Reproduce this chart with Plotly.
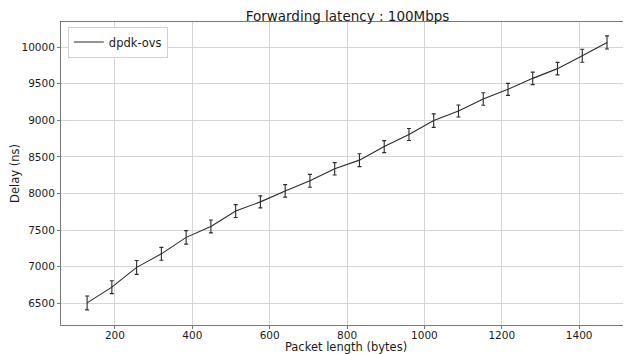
import plotly.graph_objects as go

packet_length = [128, 192, 256, 320, 384, 448, 512, 576, 640, 704, 768,
                 832, 896, 960, 1024, 1088, 1152, 1216, 1280, 1344, 1408, 1472]
delay_ns = [6505, 6720, 6990, 7175, 7400, 7550, 7760, 7885, 8035, 8172, 8336,
            8455, 8640, 8805, 8995, 9127, 9290, 9422, 9572, 9705, 9881, 10063]
delay_err = [95, 88, 95, 88, 92, 88, 88, 82, 85, 88, 85,
             88, 82, 82, 92, 82, 85, 82, 85, 85, 88, 90]

x_ticks = [200, 400, 600, 800, 1000, 1200, 1400]
y_ticks = [6500, 7000, 7500, 8000, 8500, 9000, 9500, 10000]

font_family = "DejaVu Sans"

# page body has an 8px margin, so the figure is 8px smaller and offset
fig = go.Figure()
fig.add_trace(go.Scatter(
    x=packet_length, y=delay_ns, mode="lines", name="dpdk-ovs",
    line=dict(color="#2b2b2b", width=1.1),
    error_y=dict(type="data", array=delay_err, visible=True,
                 color="#2b2b2b", thickness=1.1, width=2),
))

fig.update_layout(
    width=623, height=346,
    margin=dict(l=53, r=0, t=14, b=29, autoexpand=False),
    paper_bgcolor="white", plot_bgcolor="white",
    font=dict(family=font_family, color="#1a1a1a", size=11),
    title=dict(text="Forwarding latency : 100Mbps", x=0.545, xanchor="center",
               y=1, yref="paper", yanchor="bottom", pad=dict(b=1),
               font=dict(size=13.5, family=font_family, color="#1a1a1a")),
    showlegend=True,
    legend=dict(x=0.012, y=0.985, xanchor="left", yanchor="top",
                bgcolor="white", bordercolor="#d0d0d0", borderwidth=1,
                font=dict(size=11.5, family=font_family),
                itemwidth=30, tracegroupgap=0),
    xaxis=dict(range=[60.5, 1534], tickvals=x_ticks, tickformat="d",
               title=dict(text="Packet length (bytes)", standoff=0,
                          font=dict(size=11.5)),
               showgrid=True, gridcolor="#d5d5d5", gridwidth=1,
               showline=True, linecolor="#777", linewidth=1, mirror=True,
               ticks="outside", ticklen=3, tickcolor="#777",
               ticklabelstandoff=-3,
               tickfont=dict(size=10.5), zeroline=False, automargin=False),
    yaxis=dict(range=[6203, 10342], tickvals=y_ticks, tickformat="d",
               title=dict(text="Delay (ns)", standoff=6,
                          font=dict(size=11.5)),
               showgrid=True, gridcolor="#d5d5d5", gridwidth=1,
               showline=True, linecolor="#777", linewidth=1, mirror=False,
               ticks="outside", ticklen=3, tickcolor="#777",
               tickfont=dict(size=10.5), zeroline=False, automargin=False),
)

fig.write_html("out.html")
